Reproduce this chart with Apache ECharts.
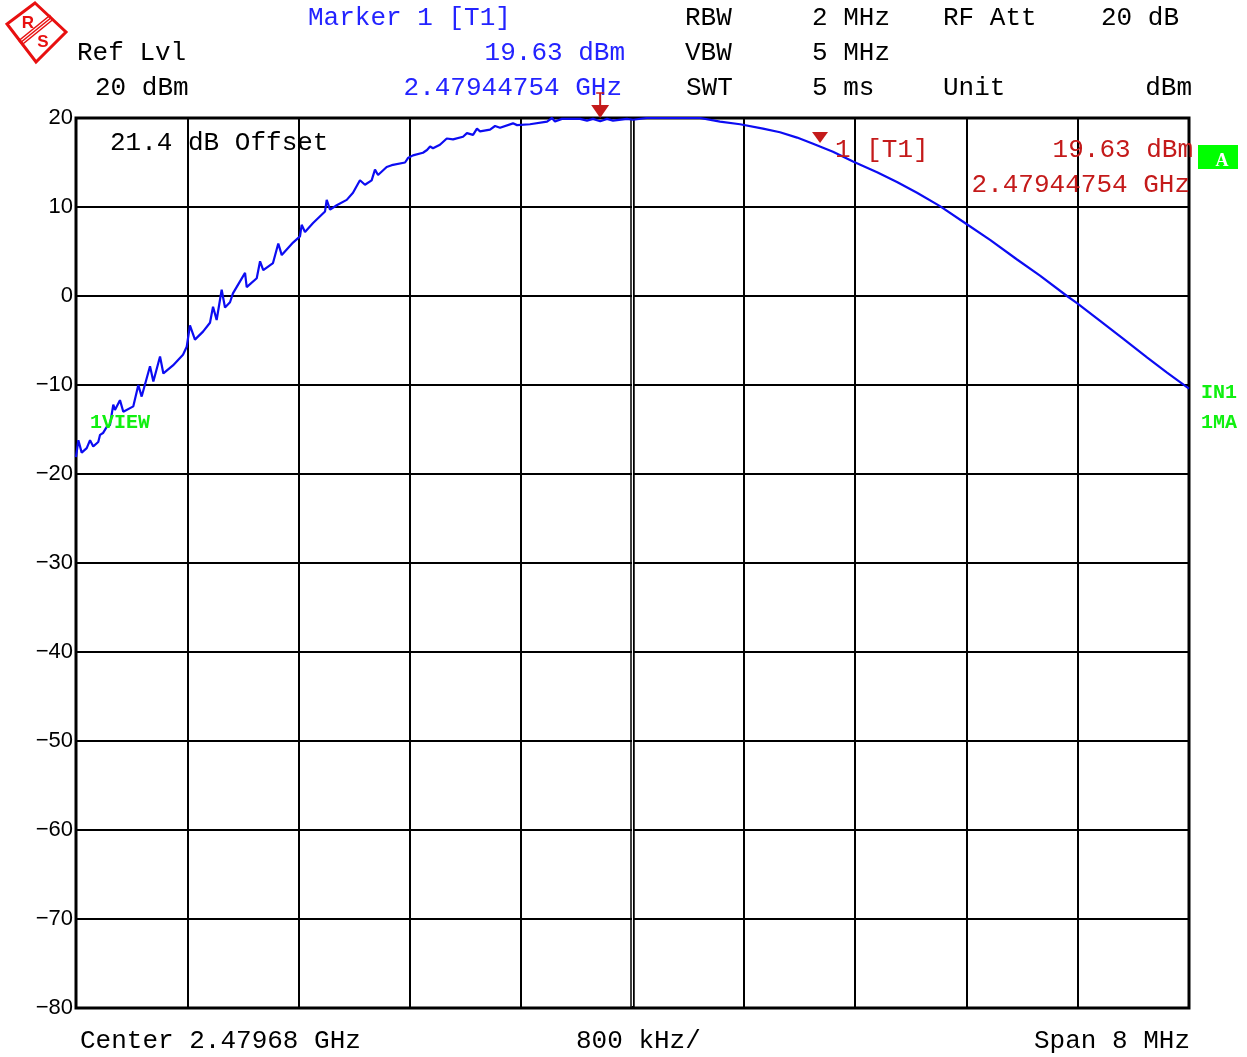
<!DOCTYPE html>
<html>
<head>
<meta charset="utf-8">
<script src="https://cdn.jsdelivr.net/npm/echarts@6/dist/echarts.min.js"></script>
<style>
html,body{margin:0;padding:0;background:#fff;}
#chart{width:1247px;height:1057px;}
</style>
</head>
<body>
<div id="chart"></div>
<script>
// ---- data (frequency offset from center in kHz, level in dBm) ----
const freqKHz = [
 -4000,-3983,-3959,-3923,-3899,-3876,-3840,-3827,-3806,-3779,
 -3756,-3732,-3720,-3684,-3660,-3588,-3552,-3528,-3468,-3444,
 -3396,-3372,-3303,-3231,-3204,-3181,-3145,-3087,-3037,-3015,
 -2989,-2953,-2929,-2893,-2872,-2785,-2773,-2701,-2677,-2654,
 -2584,-2546,-2521,-2440,-2390,-2378,-2354,-2296,-2210,-2198,
 -2174,-2126,-2054,-2009,-1959,-1923,-1875,-1851,-1829,-1815,
 -1767,-1731,-1635,-1614,-1578,-1506,-1477,-1455,-1434,-1384,
 -1335,-1290,-1218,-1190,-1146,-1118,-1096,-1024,-988,-952,
 -859,-830,-737,-614,-579,-557,-507,-377,-327,-284,
 -232,-183,-140,-40,4,104,485,629,773,938,
 1060,1183,1298,1441,1585,1758,1901,2045,2210,2390,
 2570,2764,2929,3123,3195,3361,3526,3698,3842,4000
];
const levelDbm = [
 -18.1,-16.2,-17.6,-17.1,-16.2,-16.9,-16.4,-15.6,-15.4,-14.7,
 -14.5,-12.2,-12.8,-11.7,-13.0,-12.4,-10.0,-11.3,-7.9,-9.6,
 -6.8,-8.7,-7.8,-6.6,-5.7,-3.3,-4.9,-4.0,-3.0,-1.2,
 -2.7,0.7,-1.3,-0.7,0.3,2.6,1.0,2.0,3.9,2.9,
 3.7,5.9,4.6,6.0,6.7,8.0,7.2,8.2,9.5,10.8,
 9.7,10.2,10.8,11.6,13.0,12.5,13.0,14.2,13.6,13.8,
 14.5,14.7,15.0,15.5,15.8,16.1,16.4,16.8,16.6,17.0,
 17.7,17.6,17.9,18.3,18.1,18.8,18.5,18.7,19.1,18.9,
 19.4,19.2,19.3,19.6,20.0,19.6,19.9,19.9,19.7,19.9,
 19.63,19.9,19.7,19.9,19.8,20.0,20.0,19.6,19.3,18.8,
 18.4,17.8,17.1,16.2,15.1,13.9,12.8,11.6,10.1,8.2,
 6.3,4.1,2.3,0.0,-0.8,-2.8,-4.8,-6.9,-8.6,-10.4
];
const yTicks = [20,10,0,-10,-20,-30,-40,-50,-60,-70,-80];
const centerGHz = 2.47968;
const spanMHz = 8;
const divKHz = 800;
const markerGHz = 2.47944754;
const markerLevel = 19.63;
const marker2KHz = 1348;   // position of the second (red) marker symbol
const marker2Level = 17.2;

const chart = echarts.init(document.getElementById('chart'));
const MONO = '"Liberation Mono", "Courier New", monospace';
const BLUE = '#2323ff';
const RED = '#c41a1a';
const GREEN = '#10f010';
const LOGO = '#e81010';

function txt(text, x, y, fill, opts) {
  opts = opts || {};
  return {
    type: 'text', silent: true, z: 100,
    style: {
      text: text, x: x, y: y, fill: fill,
      font: (opts.weight || 'normal') + ' ' + (opts.size || 26) + 'px ' + (opts.family || MONO),
      align: opts.align || 'left', verticalAlign: 'middle'
    }
  };
}

const series = [{
  type: 'line',
  data: freqKHz.map((f, i) => [f, levelDbm[i]]),
  showSymbol: false,
  lineStyle: { color: '#0c0cf2', width: 2.2 },
  animation: false,
  z: 5
}];

const graphics = [
  // R&S logo
  { type: 'polygon', shape: { points: [[35,3],[66,32],[36,62],[7,24]] },
    style: { fill: 'none', stroke: LOGO, lineWidth: 3 }, silent: true },
  { type: 'line', shape: { x1: 18.4, y1: 41.0, x2: 50.4, y2: 15.0 }, style: { stroke: LOGO, lineWidth: 1.6 } },
  { type: 'line', shape: { x1: 20.0, y1: 43.0, x2: 52.0, y2: 17.0 }, style: { stroke: LOGO, lineWidth: 1.6 } },
  { type: 'line', shape: { x1: 21.6, y1: 45.0, x2: 53.6, y2: 19.0 }, style: { stroke: LOGO, lineWidth: 1.6 } },
  txt('R', 28, 23, LOGO, { size: 17, weight: 'bold', family: '"Liberation Sans", sans-serif', align: 'center' }),
  txt('S', 43, 42, LOGO, { size: 17, weight: 'bold', family: '"Liberation Sans", sans-serif', align: 'center' }),

  // header row 1
  txt('Marker 1 [T1]', 308, 18, BLUE),
  txt('RBW', 685, 18, '#000'),
  txt('2 MHz', 812, 18, '#000'),
  txt('RF Att', 943, 18, '#000'),
  txt('20 dB', 1101, 18, '#000'),
  // header row 2
  txt('Ref Lvl', 77, 53, '#000'),
  txt(markerLevel.toFixed(2) + ' dBm', 625, 53, BLUE, { align: 'right' }),
  txt('VBW', 685, 53, '#000'),
  txt('5 MHz', 812, 53, '#000'),
  // header row 3
  txt(yTicks[0] + ' dBm', 95, 88, '#000'),
  txt(markerGHz.toFixed(8) + ' GHz', 622, 88, BLUE, { align: 'right' }),
  txt('SWT', 686, 88, '#000'),
  txt('5 ms', 812, 88, '#000'),
  txt('Unit', 943, 88, '#000'),
  txt('dBm', 1192, 88, '#000', { align: 'right' }),

  // in-plot texts
  txt('21.4 dB Offset', 110, 143, '#000'),
  txt('1 [T1]', 835, 150, RED),
  txt(markerLevel.toFixed(2) + ' dBm', 1193, 150, RED, { align: 'right' }),
  txt(markerGHz.toFixed(8) + ' GHz', 1190, 185, RED, { align: 'right' }),

  // green labels
  { type: 'rect', shape: { x: 1198, y: 145, width: 40, height: 24 }, style: { fill: '#00ff00' }, silent: true },
  txt('A', 1222, 161, '#fff', { size: 18, weight: 'bold', family: '"Liberation Serif", serif', align: 'center' }),
  txt('1VIEW', 90, 423, GREEN, { size: 20, weight: 'bold' }),
  txt('IN1', 1201, 393, GREEN, { size: 20, weight: 'bold' }),
  txt('1MA', 1201, 423, GREEN, { size: 20, weight: 'bold' }),

  // bottom texts
  txt('Center ' + centerGHz.toFixed(5) + ' GHz', 80, 1041, '#000'),
  txt(divKHz + ' kHz/', 576, 1041, '#000'),
  txt('Span ' + spanMHz + ' MHz', 1190, 1041, '#000', { align: 'right' })
];

chart.setOption({
  backgroundColor: '#fff',
  animation: false,
  grid: { left: 76, top: 118, width: 1113, height: 890, show: true,
          borderColor: '#000', borderWidth: 3, backgroundColor: 'transparent' },
  xAxis: {
    type: 'value', min: -spanMHz * 500, max: spanMHz * 500, interval: divKHz,
    axisLabel: { show: false }, axisTick: { show: false }, axisLine: { show: false },
    splitLine: { show: true, lineStyle: { color: '#000', width: 2 } }
  },
  yAxis: {
    type: 'value', min: yTicks[yTicks.length - 1], max: yTicks[0], interval: 10,
    axisTick: { show: false }, axisLine: { show: false },
    axisLabel: {
      margin: 3, color: '#000', fontSize: 22, fontFamily: '"Liberation Sans", sans-serif',
      formatter: v => (v < 0 ? '\u2212' + Math.abs(v) : String(v))
    },
    splitLine: { show: true, lineStyle: { color: '#000', width: 2 } }
  },
  series: series,
  graphic: graphics
});

// marker symbols and the doubled centre line, positioned through the chart's scales
const mOff = Math.round((markerGHz - centerGHz) * 1e6 * 100) / 100;
const p1 = chart.convertToPixel({ gridIndex: 0 }, [mOff, 20]);
const p2 = chart.convertToPixel({ gridIndex: 0 }, [marker2KHz, marker2Level]);
const cTop = chart.convertToPixel({ gridIndex: 0 }, [0, yTicks[0]]);
const cBot = chart.convertToPixel({ gridIndex: 0 }, [0, yTicks[yTicks.length - 1]]);
graphics.push(
  { type: 'line', shape: { x1: cTop[0] - 1.5, y1: cTop[1], x2: cBot[0] - 1.5, y2: cBot[1] }, style: { stroke: '#000', lineWidth: 1.5 }, z: 1 },
  { type: 'line', shape: { x1: cTop[0] + 1.5, y1: cTop[1], x2: cBot[0] + 1.5, y2: cBot[1] }, style: { stroke: '#000', lineWidth: 1.5 }, z: 1 },
  { type: 'line', shape: { x1: cTop[0], y1: cTop[1] + 2, x2: cBot[0], y2: cBot[1] - 2 }, style: { stroke: '#fff', lineWidth: 1 }, z: 2 },
  { type: 'line', shape: { x1: p1[0], y1: p1[1] - 25, x2: p1[0], y2: p1[1] - 12 }, style: { stroke: RED, lineWidth: 2 }, z: 110 },
  { type: 'line', shape: { x1: p1[0] - 4, y1: p1[1] - 25, x2: p1[0] + 4, y2: p1[1] - 25 }, style: { stroke: RED, lineWidth: 1.5 }, z: 110 },
  { type: 'polygon', shape: { points: [[p1[0] - 9, p1[1] - 13], [p1[0] + 9, p1[1] - 13], [p1[0], p1[1]]] }, style: { fill: RED }, z: 110 },
  { type: 'polygon', shape: { points: [[p2[0] - 8, p2[1] - 11], [p2[0] + 8, p2[1] - 11], [p2[0], p2[1]]] }, style: { fill: RED }, z: 110 }
);
chart.setOption({ graphic: graphics });
</script>
</body>
</html>
